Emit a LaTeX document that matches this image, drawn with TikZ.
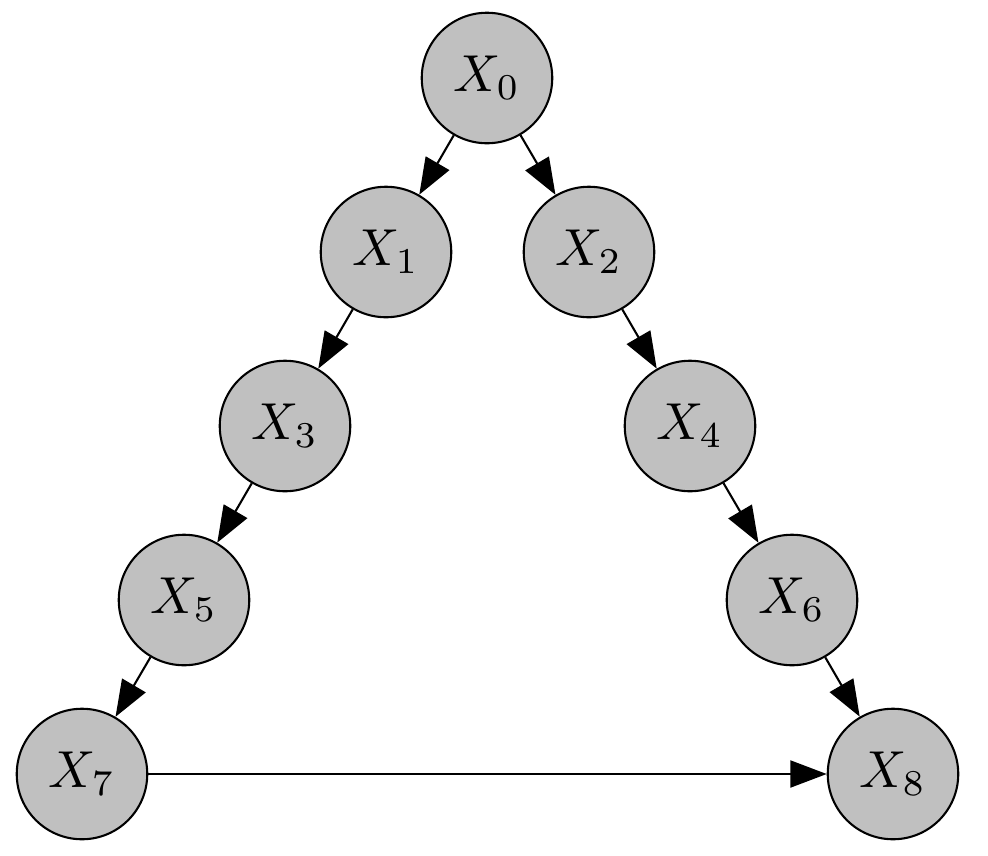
\documentclass[tikz,border=0pt]{standalone}
\usetikzlibrary{arrows.meta}
\definecolor{nodefill}{RGB}{192,192,192}
\begin{document}
\begin{tikzpicture}[x=0.19231pt,y=-0.19231pt,
  varnode/.style={circle,draw=black,line width=0.4pt,fill=nodefill,minimum size=25.1pt,inner sep=0pt},
  edge/.style={line width=0.4pt,-{Triangle[length=7pt,width=5.2pt]}}]
\useasboundingbox (0,0) rectangle (988,856);
\node[varnode] (x0) at (487,78) {$X_0$};
\node[varnode] (x1) at (386,252) {$X_1$};
\node[varnode] (x2) at (589,252) {$X_2$};
\node[varnode] (x3) at (285,426) {$X_3$};
\node[varnode] (x4) at (690,426) {$X_4$};
\node[varnode] (x5) at (184,600) {$X_5$};
\node[varnode] (x6) at (792,600) {$X_6$};
\node[varnode] (x7) at (82,774) {$X_7$};
\node[varnode] (x8) at (893,774) {$X_8$};
\draw[edge] (x0) -- (x1);
\draw[edge] (x0) -- (x2);
\draw[edge] (x1) -- (x3);
\draw[edge] (x2) -- (x4);
\draw[edge] (x3) -- (x5);
\draw[edge] (x4) -- (x6);
\draw[edge] (x5) -- (x7);
\draw[edge] (x6) -- (x8);
\draw[edge] (x7) -- (x8);
\end{tikzpicture}
\end{document}
